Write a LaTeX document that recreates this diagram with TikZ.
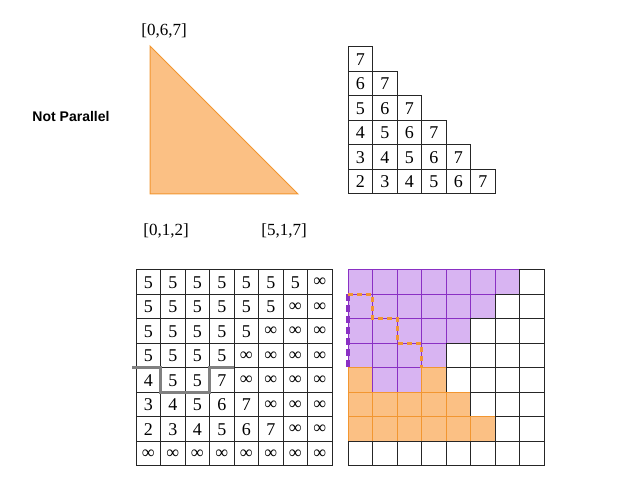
\documentclass[tikz,border=0pt]{standalone}
\usepackage{fontspec}
\setmainfont{Liberation Serif}
\newfontfamily\arialfont{Liberation Sans}
\usetikzlibrary{calc}

\definecolor{triorange}{RGB}{251,192,132}
\definecolor{lineorange}{RGB}{242,150,48}
\definecolor{lightpurple}{RGB}{216,180,242}
\definecolor{darkpurple}{RGB}{138,48,196}
\definecolor{stepgray}{RGB}{128,128,128}

\begin{document}
\begin{tikzpicture}[x=1pt, y=-1pt,
        cell/.style={rectangle, draw=black!85, line width=1pt, minimum size=24.5pt,
            inner sep=0pt, outer sep=0pt, font=\fontsize{18}{20}\selectfont},
        cellp/.style={cell, fill=lightpurple, draw=darkpurple}, % value 5
        cello/.style={cell, fill=triorange, draw=lineorange},   % other values
        cellw/.style={cell},                                     % infinity
        lbl/.style={font=\fontsize{17}{20}\selectfont}
    ]
    \useasboundingbox (0,0) rectangle (638,478);

    % triangle and corner labels
    \filldraw[fill=triorange, draw=lineorange, line width=1pt]
        (150,46) -- (150,194) -- (298,194) -- cycle;
    \node[lbl] (top) at (164,31) {[0,6,7]};
    \node[lbl] (left) at (166,231) {[0,1,2]};
    \node[lbl] (right) at (284,231) {[5,1,7]};
    \node[font=\arialfont\bfseries\fontsize{14}{16}\selectfont] (np) at (71,116) {Not Parallel};

    % triangular table
    \foreach \r in {0,...,5} {
        \foreach \k in {0,...,\r} {
            \pgfmathtruncatemacro{\v}{7-\r+\k}
            \node[cell] (t-\r-\k) at ({348+24.5*\k+12.25},{47+24.5*\r+12.25}) {\v};
        }
    }

    % left grid with values
    \foreach \row [count=\r from 0] in {
            {5,5,5,5,5,5,5,∞},
            {5,5,5,5,5,5,∞,∞},
            {5,5,5,5,5,∞,∞,∞},
            {5,5,5,5,∞,∞,∞,∞},
            {4,5,5,7,∞,∞,∞,∞},
            {3,4,5,6,7,∞,∞,∞},
            {2,3,4,5,6,7,∞,∞},
            {∞,∞,∞,∞,∞,∞,∞,∞}} {
        \foreach \v [count=\k from 0] in \row {
            \node[cell] (l-\r-\k) at ({136+24.5*\k+12.25},{270+24.5*\r+12.25}) {\v};
        }
    }

    % step outline in the left grid
    \coordinate (gs) at ($(l-4-0.north west)+(-4,0)$);
    \draw[stepgray, line width=3pt]
        (gs) -- (l-4-0.north east) -- (l-4-0.south east) -- (l-4-2.south east)
        -- (l-4-2.north east) -- (l-4-3.north east);

    % right grid, coloured by region
    \foreach \row [count=\r from 0] in {
            {p,p,p,p,p,p,p,w},
            {p,p,p,p,p,p,w,w},
            {p,p,p,p,p,w,w,w},
            {p,p,p,p,w,w,w,w},
            {o,p,p,o,w,w,w,w},
            {o,o,o,o,o,w,w,w},
            {o,o,o,o,o,o,w,w},
            {w,w,w,w,w,w,w,w}} {
        \foreach \c [count=\k from 0] in \row {
            \node[cell\c] (g-\r-\k) at ({348+24.5*\k+12.25},{270+24.5*\r+12.25}) {};
        }
    }

    % dashed paths
    \draw[darkpurple, line width=3.5pt, dash pattern=on 7pt off 4pt]
        (g-1-0.north west) -- (g-3-0.south west);
    \draw[lineorange, line width=3pt, dash pattern=on 5pt off 4pt]
        (g-1-0.north west) -- (g-1-0.north east) -- (g-1-0.south east)
        -- (g-2-1.north east) -- (g-2-1.south east)
        -- (g-3-2.north east) -- (g-3-2.south east);
\end{tikzpicture}
\end{document}
